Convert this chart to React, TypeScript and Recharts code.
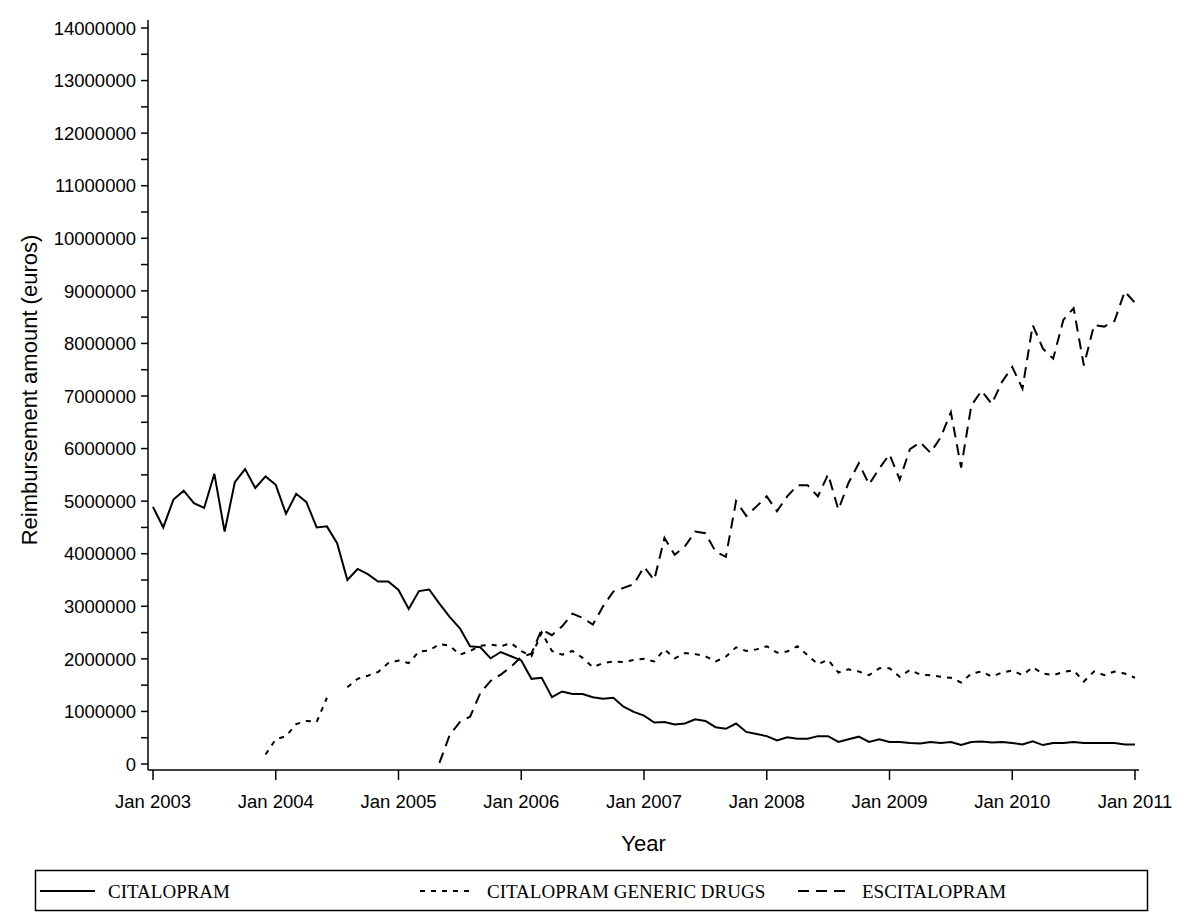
import React from "react";
import { LineChart, Line, XAxis, YAxis } from "recharts";

const monthNames = ["Jan", "Feb", "Mar", "Apr", "May", "Jun", "Jul", "Aug", "Sep", "Oct", "Nov", "Dec"];

// one category per month, Jan 2003 .. Jan 2011
const months: string[] = [];
for (let i = 0; i < 97; i++) months.push(`${monthNames[i % 12]} ${2003 + Math.floor(i / 12)}`);

// y ticks every 500 000, labels only on whole millions
const yTicks: number[] = [];
for (let v = 0; v <= 14000000; v += 500000) yTicks.push(v);

// monthly reimbursement amounts (euros)
const citalopram = [
  4890000, 4500000, 5030000, 5200000, 4960000, 4870000, 5520000, 4420000, 5360000, 5610000, 5250000, 5470000,
  5310000, 4760000, 5140000, 4980000, 4500000, 4520000, 4200000, 3500000, 3710000, 3610000, 3470000, 3470000,
  3310000, 2950000, 3290000, 3320000, 3050000, 2800000, 2580000, 2240000, 2220000, 2010000, 2130000, 2050000,
  1970000, 1620000, 1640000, 1270000, 1380000, 1330000, 1330000, 1270000, 1240000, 1260000, 1090000, 990000,
  920000, 790000, 800000, 750000, 770000, 850000, 820000, 700000, 670000, 770000, 610000, 570000,
  530000, 450000, 510000, 480000, 480000, 530000, 530000, 420000, 470000, 520000, 420000, 470000,
  420000, 420000, 400000, 390000, 420000, 400000, 420000, 360000, 420000, 430000, 410000, 420000,
  400000, 370000, 430000, 360000, 400000, 400000, 420000, 400000, 400000, 400000, 400000, 370000,
  370000,
];

const citalopramGeneric = [
  null, null, null, null, null, null, null, null, null, null, null, 180000,
  470000, 530000, 760000, 820000, 800000, 1260000, null, 1460000, 1620000, 1680000, 1750000, 1920000,
  1970000, 1920000, 2140000, 2160000, 2280000, 2250000, 2080000, 2150000, 2250000, 2270000, 2240000, 2300000,
  2150000, 2050000, 2500000, 2150000, 2080000, 2150000, 2020000, 1840000, 1920000, 1950000, 1940000, 1980000,
  2000000, 1950000, 2180000, 2010000, 2110000, 2090000, 2050000, 1950000, 2040000, 2220000, 2150000, 2180000,
  2240000, 2120000, 2140000, 2240000, 2070000, 1900000, 1980000, 1740000, 1800000, 1760000, 1690000, 1820000,
  1820000, 1660000, 1790000, 1700000, 1690000, 1660000, 1640000, 1550000, 1720000, 1760000, 1660000, 1740000,
  1780000, 1690000, 1840000, 1720000, 1690000, 1750000, 1780000, 1570000, 1760000, 1690000, 1760000, 1720000,
  1640000,
];

const escitalopram = [
  null, null, null, null, null, null, null, null, null, null, null, null,
  null, null, null, null, null, null, null, null, null, null, null, null,
  null, null, null, null, 20000, 550000, 800000, 900000, 1350000, 1580000, 1700000, 1850000,
  2040000, 2100000, 2560000, 2450000, 2620000, 2860000, 2780000, 2650000, 3000000, 3280000, 3350000, 3420000,
  3750000, 3500000, 4300000, 3980000, 4140000, 4420000, 4390000, 4040000, 3940000, 5000000, 4720000, 4900000,
  5090000, 4810000, 5090000, 5300000, 5300000, 5090000, 5510000, 4840000, 5350000, 5720000, 5320000, 5620000,
  5890000, 5410000, 5990000, 6120000, 5920000, 6210000, 6690000, 5640000, 6820000, 7100000, 6850000, 7270000,
  7550000, 7140000, 8350000, 7900000, 7710000, 8450000, 8670000, 7580000, 8350000, 8320000, 8430000, 8990000,
  8770000,
];

const data = months.map((month, i) => ({
  month,
  citalopram: citalopram[i],
  generic: citalopramGeneric[i],
  escitalopram: escitalopram[i],
}));

const series = [
  { key: "citalopram", name: "CITALOPRAM", dash: undefined as string | undefined },
  { key: "generic", name: "CITALOPRAM GENERIC DRUGS", dash: "5 6" },
  { key: "escitalopram", name: "ESCITALOPRAM", dash: "11 7" },
];

// legend sample line start / length and text start
const legendPos = [
  { x: 40, len: 55, tx: 108 },
  { x: 420, len: 55, tx: 487 },
  { x: 798, len: 47, tx: 862 },
];

const sans = "'Liberation Sans', Arial, sans-serif";
const serif = "'Liberation Serif', 'Times New Roman', serif";
const frame = { stroke: "#000", strokeWidth: 1.5 };

const YTick = (props: any) => {
  const { x, y, payload } = props;
  if (payload.value % 1000000 !== 0) return <g />;
  return (
    <text x={x} y={y} dy="0.36em" textAnchor="end" fontSize={18.5} fontFamily={sans} fill="#000">
      {payload.value}
    </text>
  );
};

const YTitle = () => (
  <text x={37} y={390} transform="rotate(-90 37 390)" textAnchor="middle" fontSize={22} fontFamily={sans} fill="#000">
    Reimbursement amount (euros)
  </text>
);

export default function App() {
  return (
    <div style={{ position: "absolute", left: 0, top: 0, width: 1200, height: 918, background: "#fff" }}>
      <LineChart
        width={1200}
        height={918}
        data={data}
        margin={{ top: 20, right: 61, bottom: 88, left: 0 }}
      >
        <XAxis
          dataKey="month"
          interval={11}
          padding={{ left: 5, right: 4 }}
          height={60}
          tickSize={10}
          tickMargin={15}
          axisLine={frame}
          tickLine={frame}
          tick={{ fill: "#000", fontSize: 18.5, fontFamily: sans }}
          label={{ value: "Year", position: "bottom", offset: 5, fill: "#000", fontSize: 22, fontFamily: sans }}
        />
        <XAxis xAxisId="top" dataKey="month" orientation="top" height={0} tick={false} tickLine={false} axisLine={frame} />
        <YAxis
          type="number"
          domain={[0, 14000000]}
          ticks={yTicks}
          interval={0}
          width={148}
          padding={{ top: 8, bottom: 6 }}
          tickSize={7}
          tickMargin={5}
          axisLine={frame}
          tickLine={frame}
          tick={<YTick />}
          label={<YTitle />}
        />
        <YAxis yAxisId="right" orientation="right" width={0} tick={false} tickLine={false} axisLine={frame} />
        {series.map((s) => (
          <Line
            key={s.key}
            type="linear"
            dataKey={s.key}
            name={s.name}
            stroke="#000"
            strokeWidth={2}
            strokeDasharray={s.dash}
            dot={false}
            isAnimationActive={false}
          />
        ))}
      </LineChart>
      <svg width={1200} height={918} style={{ position: "absolute", left: 0, top: 0, pointerEvents: "none" }}>
        <rect x={35.5} y={870.5} width={1112} height={40} fill="none" stroke="#000" strokeWidth={1.5} />
        {series.map((s, i) => (
          <g key={s.key}>
            <line
              x1={legendPos[i].x}
              x2={legendPos[i].x + legendPos[i].len}
              y1={891}
              y2={891}
              stroke="#000"
              strokeWidth={2}
              strokeDasharray={s.dash}
            />
            <text x={legendPos[i].tx} y={898} fontSize={19} fontFamily={serif} fill="#000">
              {s.name}
            </text>
          </g>
        ))}
      </svg>
    </div>
  );
}
